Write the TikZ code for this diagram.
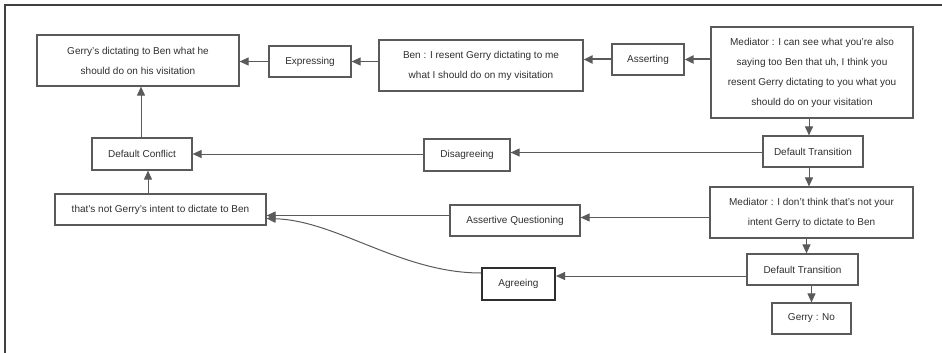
\documentclass[tikz,border=0pt]{standalone}
\usepackage{fontspec}
\setmainfont{Liberation Sans}
\usetikzlibrary{arrows.meta}
\usetikzlibrary{positioning}
\definecolor{linegray}{HTML}{5A5A5A}
\definecolor{textgray}{HTML}{2E2E2E}
\tikzset{%
  r/.style = {rectangle,draw=linegray,line width=1.2pt,text=textgray,
        font=\fontsize{10}{20}\selectfont,align=center,inner sep=0pt},
  rb/.style = {r,draw=textgray,line width=2pt},
  linkarrow/.style = {-{Triangle[length=9pt,width=8pt]},draw=linegray,
        line width=1pt},
  strongarrow/.style = {linkarrow,line width=2pt}
}

\begin{document}
\begin{tikzpicture}[x=1pt,y=-1pt]
  \useasboundingbox (0,0) rectangle (942,353);
  \draw[line width=1.5pt,draw=black!75] (5,353) -- (5,5) -- (942,5);
  % top row
  \node[r,minimum width=202pt,minimum height=51pt] (gerrydict) at (138,60.5)
    {Gerry's dictating to Ben what he\\should do on his visitation};
  \node[r,minimum width=82pt,minimum height=31pt] (expressing) at (310,61.5)
    {Expressing};
  \node[r,minimum width=204pt,minimum height=51pt] (benresent) at (481,65.5)
    {Ben : I resent Gerry dictating to me\\what I should do on my visitation};
  \node[r,minimum width=72pt,minimum height=31pt] (asserting) at (648,59.5)
    {Asserting};
  \node[r,minimum width=202pt,minimum height=91pt] (mediatorA) at (812,72.5)
    {Mediator : I can see what you're also\\saying too Ben that uh, I think you\\resent Gerry dictating to you what you\\should do on your visitation};
  % middle rows
  \node[r,minimum width=100pt,minimum height=31pt] (transA) at (813,151.5)
    {Default Transition};
  \node[r,minimum width=86pt,minimum height=32pt] (disagreeing) at (467,155)
    {Disagreeing};
  \node[r,minimum width=100pt,minimum height=32pt] (conflict) at (142,154)
    {Default Conflict};
  \node[r,minimum width=211pt,minimum height=31pt] (notintent) at (160.5,209.5)
    {that's not Gerry's intent to dictate to Ben};
  \node[r,minimum width=130pt,minimum height=31pt] (questioning) at (515,220.5)
    {Assertive Questioning};
  \node[r,minimum width=203pt,minimum height=51pt] (mediatorB) at (811.5,212.5)
    {Mediator : I don't think that's not your\\intent Gerry to dictate to Ben};
  % bottom rows
  \node[r,minimum width=111pt,minimum height=31pt] (transB) at (802.5,269.5)
    {Default Transition};
  \node[rb,minimum width=73pt,minimum height=32pt] (agreeing) at (518.5,284)
    {Agreeing};
  \node[r,minimum width=79pt,minimum height=31pt] (gerryno) at (811.5,318.5)
    {Gerry : No};

  \draw[linkarrow] (expressing.west) -- (expressing.west -| gerrydict.east);
  \draw[linkarrow] (expressing.east -| benresent.west) -- (expressing.east);
  \draw[strongarrow] (asserting.west) -- (asserting.west -| benresent.east);
  \draw[strongarrow] (asserting.east -| mediatorA.west) -- (asserting.east);
  \draw[linkarrow] ([xshift=-3pt]mediatorA.south) -- ([xshift=-3pt]mediatorA.south |- transA.north);
  \draw[linkarrow] ([yshift=-1pt]transA.west) -- ([yshift=-1pt]transA.west -| disagreeing.east);
  \draw[linkarrow] ([yshift=1pt]disagreeing.west) -- ([yshift=1pt]disagreeing.west -| conflict.east);
  \draw[linkarrow] ([xshift=-1pt]conflict.north) -- ([xshift=-1pt]conflict.north |- gerrydict.south);
  \draw[linkarrow] ([xshift=6pt]conflict.south |- notintent.north) -- ([xshift=6pt]conflict.south);
  \draw[linkarrow] ([xshift=-4pt]transA.south) -- ([xshift=-4pt]transA.south |- mediatorB.north);
  \draw[linkarrow] ([yshift=3pt]questioning.east -| mediatorB.west) -- ([yshift=3pt]questioning.east);
  \draw[linkarrow] ([yshift=5pt]questioning.west) -- ([yshift=-6pt]notintent.east);
  \draw[linkarrow] ([xshift=-5pt]mediatorB.south) -- ([xshift=-5pt]mediatorB.south |- transB.north);
  \draw[linkarrow] ([yshift=8pt]agreeing.east -| transB.west) -- ([yshift=8pt]agreeing.east);
  \draw[linkarrow] ([yshift=11pt]agreeing.west) .. controls +(-80,0) and +(70,2) .. ([yshift=-9pt]notintent.east);
  \draw[linkarrow] (gerryno.north |- transB.south) -- (gerryno.north);
\end{tikzpicture}
\end{document}
